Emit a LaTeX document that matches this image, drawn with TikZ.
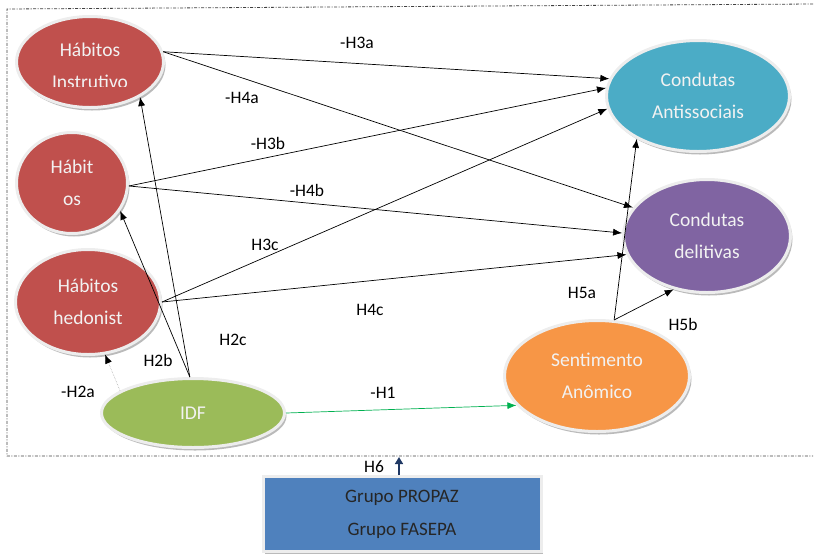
\documentclass[tikz,border=0pt]{standalone}
\usepackage{fontspec}
\setmainfont{Carlito}
\usetikzlibrary{shapes.geometric,shadows,arrows.meta}
\definecolor{habred}{HTML}{C0504D}
\definecolor{antiteal}{HTML}{4BACC6}
\definecolor{delpurp}{HTML}{8064A2}
\definecolor{idfgreen}{HTML}{9BBB59}
\definecolor{anomorange}{HTML}{F79646}
\definecolor{grpblue}{HTML}{4F81BD}
\definecolor{hgreen}{HTML}{00B050}
\definecolor{hnavy}{HTML}{1F3864}

\begin{document}
\begin{tikzpicture}[x=1pt,y=-1pt,
	eltxt/.style={text=white!95!black, align=center, font=\fontsize{19.5}{32}\selectfont},
	elip/.style={eltxt, ellipse, draw=black!7, line width=3pt, inner sep=0pt,
		drop shadow={shadow xshift=2pt, shadow yshift=-3pt, fill=black!45, opacity=0.6}},
	hyp/.style={font=\fontsize{17.5}{20}\selectfont},
	seta/.style={-{Latex[length=9pt,width=7pt]}, line width=0.7pt},
	frame/.style={black!75, line width=0.8pt, dash pattern=on 3pt off 1.5pt on 1pt off 1.5pt}]
	\useasboundingbox (0,0) rectangle (816,555);
	\draw[frame] (813,4) -- (7,9) -- (7,456) -- (813,456);

	\node[elip, fill=habred, minimum width=147pt, minimum height=91pt] (instr) at (90,62) {};
	\begin{scope}
		\clip (30,20) rectangle (150,86);
		\node[eltxt] at (90,66) {Hábitos\\Instrutivo};
	\end{scope}
	\node[elip, fill=habred, minimum width=111pt, minimum height=101pt] (os) at (72,183) {Hábit\\os};
	\node[elip, fill=habred, minimum width=145pt, minimum height=105pt] (hedon) at (88,302) {Hábitos\\hedonist};
	\node[elip, fill=idfgreen, minimum width=183pt, minimum height=69pt] (idf) at (193,413) {IDF};
	\node[elip, fill=antiteal, minimum width=183pt, minimum height=111pt] (anti) at (698,96) {Condutas\\Antissociais};
	\node[elip, fill=delpurp, minimum width=167pt, minimum height=113pt] (delit) at (707,236) {Condutas\\delitivas};
	\node[elip, fill=anomorange, minimum width=185pt, minimum height=111pt] (anom) at (597,376) {Sentimento\\Anômico};
	\node[fill=grpblue, draw=black!7, line width=3pt, minimum width=278pt, minimum height=75pt,
		align=center, text=black!85, font=\fontsize{19}{33}\selectfont,
		drop shadow={shadow xshift=2pt, shadow yshift=-2pt, fill=black!45, opacity=0.6}] (grp) at (402,514) {Grupo PROPAZ\\Grupo FASEPA};
	\coordinate (h6top) at (399,457);

	\draw[seta] (instr.8) -- (anti.169);
	\draw[seta] (instr.8) -- (delit.159);
	\draw[seta] (os.-3) -- (anti.175);
	\draw[seta] (os.-3) -- (delit.178);
	\draw[seta] (hedon.east) -- (anti.188);
	\draw[seta] (hedon.east) -- (delit.193);
	\draw[seta] (idf.95) -- (instr.-35);
	\draw[seta] (idf.95) -- (os.-30);
	\draw[gray!60, densely dotted, line width=0.6pt, -{Latex[length=9pt,width=7pt,color=black]}] (idf.163) -- (hedon.-72);
	\draw[seta, hgreen] (idf.east) -- (anom.200);
	\draw[seta] (anom.73) -- (anti.215);
	\draw[seta] (anom.73) -- (delit.238);
	\draw[hnavy, line width=1.6pt, -{Triangle[length=7pt,width=8pt]}] (grp.north -| h6top) -- (h6top);

	\node[hyp] (lh3a) at (357,43) {-H3a};
	\node[hyp] (lh4a) at (242,98) {-H4a};
	\node[hyp] (lh3b) at (268,143) {-H3b};
	\node[hyp] (lh4b) at (307,190) {-H4b};
	\node[hyp] (lh3c) at (265,245) {H3c};
	\node[hyp] (lh4c) at (370,310) {H4c};
	\node[hyp] (lh2c) at (233,340) {H2c};
	\node[hyp] (lh2b) at (158,360) {H2b};
	\node[hyp] (lh2a) at (78,392) {-H2a};
	\node[hyp] (lh1) at (383,393) {-H1};
	\node[hyp] (lh5a) at (582,293) {H5a};
	\node[hyp] (lh5b) at (683,324) {H5b};
	\node[hyp] (lh6) at (374,467) {H6};
\end{tikzpicture}
\end{document}
